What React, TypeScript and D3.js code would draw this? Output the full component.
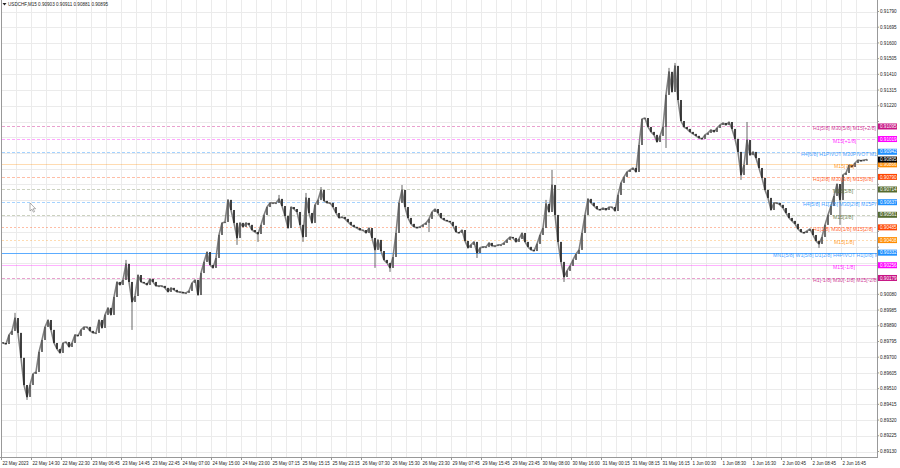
import * as d3 from 'd3';

const W = 900;
const H = 468;
const PLOT_LEFT = 2;
const PLOT_RIGHT = 877;
const PLOT_BOTTOM = 457;

const SYMBOL = 'USDCHF,M15';
const HEADER_OHLC = ['0.90903', '0.90911', '0.90881', '0.90895'];

// prices in points (1 point = 0.00001)
const FIRST_OPEN = 89790;
const CLOSES = [
  89786, 89780, 89835, 89859, 89937, 89847, 89696, 89532, 89460, 89532,
  89599, 89611, 89732, 89804, 89883, 89925, 89865, 89786, 89750, 89726,
  89786, 89792, 89762, 89786, 89835, 89829, 89865, 89883, 89883, 89859,
  89847, 89847, 89925, 89877, 89956, 89998, 89956, 90064, 90155, 90137,
  90167, 90264, 90155, 90034, 90070, 90197, 90155, 90149, 90137, 90173,
  90155, 90131, 90131, 90131, 90119, 90095, 90119, 90107, 90095, 90095,
  90089, 90089, 90101, 90149, 90167, 90076, 90209, 90276, 90336, 90258,
  90240, 90300, 90439, 90512, 90518, 90651, 90590, 90512, 90421, 90512,
  90488, 90512, 90500, 90469, 90457, 90445, 90500, 90560, 90608, 90633,
  90633, 90633, 90657, 90614, 90554, 90481, 90608, 90596, 90578, 90500,
  90427, 90663, 90572, 90512, 90621, 90651, 90711, 90645, 90633, 90633,
  90608, 90572, 90542, 90548, 90536, 90518, 90500, 90488, 90481, 90469,
  90469, 90451, 90481, 90421, 90349, 90409, 90342, 90288, 90270, 90240,
  90306, 90451, 90633, 90711, 90608, 90542, 90506, 90488, 90481, 90488,
  90500, 90512, 90536, 90578, 90596, 90572, 90542, 90530, 90524, 90518,
  90494, 90457, 90451, 90469, 90403, 90361, 90379, 90397, 90330, 90361,
  90367, 90367, 90391, 90373, 90373, 90379, 90379, 90391, 90409, 90427,
  90421, 90397, 90415, 90451, 90397, 90367, 90349, 90342, 90385, 90439,
  90481, 90627, 90578, 90741, 90560, 90397, 90276, 90185, 90222, 90252,
  90288, 90324, 90349, 90451, 90560, 90657, 90633, 90614, 90596, 90590,
  90602, 90590, 90608, 90608, 90584, 90681, 90754, 90790, 90820, 90832,
  90844, 90820, 90983, 91140, 91146, 91092, 91062, 91044, 91001, 91038,
  91092, 91286, 91425, 91304, 91461, 91255, 91128, 91092, 91080, 91062,
  91050, 91038, 91025, 91020, 91044, 91056, 91074, 91062, 91086, 91104,
  91116, 91104, 91122, 91080, 91020, 90941, 90802, 90862, 91013, 90922,
  90941, 90904, 90844, 90784, 90711, 90663, 90590, 90633, 90633, 90621,
  90602, 90572, 90542, 90524, 90506, 90475, 90457, 90451, 90463, 90475,
  90439, 90403, 90385, 90427, 90500, 90560, 90614, 90675, 90747, 90651,
  90802, 90814, 90862, 90850, 90874, 90892, 90887, 90892, 90895,
];

// [bar index, price] for long wicks
const WICK_HIGHS: [number, number][] = [
  [4, 89968], [41, 90288], [92, 90681], [101, 90693], [106, 90729], [133, 90741],
  [181, 90651], [183, 90832], [222, 91449], [224, 91479], [248, 91122],
];
const WICK_LOWS: [number, number][] = [
  [8, 89442], [43, 89865], [78, 90379], [85, 90397], [100, 90397], [124, 90240],
  [129, 90216], [142, 90457], [158, 90300], [187, 90155], [221, 90965], [246, 90772],
  [272, 90361], [279, 90500],
];

const PRICE_TICKS = [
  89130, 89225, 89320, 89415, 89510, 89605, 89700, 89795, 89890, 89985,
  90080, 90175, 90270, 90365, 90460, 90555, 90650, 90745, 90840, 90935,
  91030, 91125, 91220, 91315, 91410, 91505, 91600, 91695, 91790,
];

const TIME_LABELS = [
  '22 May 2023', '22 May 14:30', '22 May 22:30', '23 May 06:45', '23 May 14:45',
  '23 May 22:45', '24 May 07:00', '24 May 15:00', '24 May 23:00', '25 May 07:15',
  '25 May 15:15', '25 May 23:15', '26 May 07:30', '26 May 15:30', '26 May 23:30',
  '29 May 07:45', '29 May 15:45', '29 May 23:45', '30 May 08:00', '30 May 16:00',
  '31 May 00:15', '31 May 08:15', '31 May 16:15', '1 Jun 00:30', '1 Jun 08:30',
  '1 Jun 16:30', '2 Jun 00:45', '2 Jun 08:45', '2 Jun 16:45',
];
const LABEL_EVERY = 10;
const GRID_EVERY = 5;

const LEVEL_PRICES = [
  91095, 91019, 90942, 90866, 90790, 90714, 90637, 90561, 90485, 90408, 90332, 90256, 90179,
];
const LEVEL_NAMES = [
  'H1[5/8] M30[5/8] M15[+2/8]',
  'M15[+1/8]',
  'H4[6/8] H1PIVOT M30PIVOT M15[8/8]',
  'M15[7/8]',
  'H1[3/8] M30[3/8] M15[6/8]',
  'M15[5/8]',
  'H4[5/8] H1[2/8] M30[2/8] M15PIVOT',
  'M15[3/8]',
  'H1[1/8] M30[1/8] M15[2/8]',
  'M15[1/8]',
  'MN1[5/8] W1[5/8] D1[2/8] H4PIVOT H1[0/8] M30[0/8] M15[0/8]',
  'M15[-1/8]',
  'H1[-1/8] M30[-1/8] M15[-2/8]',
];
const LAST_PRICE = 90895;

// styling for the level lines
const LEVEL_COLORS = [
  '#C71585', '#FF00FF', '#1E90FF', '#FF8C00', '#FF4500', '#556B2F', '#1E90FF',
  '#556B2F', '#FF4500', '#FF8C00', '#1E90FF', '#FF00FF', '#C71585',
];
const LEVEL_LINE_COLORS = [
  '#C71585', '#FF00FF', '#1E90FF', '#FF8C00', '#FF4500', '#556B2F', '#1E90FF',
  '#556B2F', '#FF4500', '#FF8C00', '#4AA3FF', '#FF00FF', '#C71585',
];
const LEVEL_DASH = ['3,2', '3,2', '3,2', '', '3,2', '3,2', '3,2', '3,2', '2,2', '2,2', '', '', '3,2'];
const LEVEL_OPACITY = [0.4, 0.35, 0.4, 0.3, 0.35, 0.3, 0.4, 0.3, 0.35, 0.3, 0.9, 0.3, 0.4];
const LEVEL_TEXT_X = [813, 833, 801, 834, 813, 833, 803, 833, 813, 834, 773, 833, 813];

const FONT = '"Liberation Sans", Arial, sans-serif';
const fmt = (p: number) => (p / 100000).toFixed(5);

export default function App() {
  const x = d3.scaleLinear().domain([0, CLOSES.length - 1]).range([2, 866]);
  const y = d3.scaleLinear().domain([89130, 91790]).range([451.5, 11.5]);

  const highMap = new Map(WICK_HIGHS);
  const lowMap = new Map(WICK_LOWS);

  const candles = CLOSES.map((c, i) => {
    const o = i === 0 ? FIRST_OPEN : CLOSES[i - 1];
    const hi = Math.max(o, c, highMap.get(i) ?? -Infinity);
    const lo = Math.min(o, c, lowMap.get(i) ?? Infinity);
    return { i, o, c, hi, lo };
  });

  const closePath = d3
    .line<number>()
    .x((_, i) => x(i) + 1)
    .y((c) => y(c))(CLOSES);

  const gridX = d3.range(GRID_EVERY, CLOSES.length, GRID_EVERY).map((i) => Math.round(x(i)) - 0.5);

  const boxes = [
    ...LEVEL_PRICES.map((p, k) => ({ p, col: LEVEL_COLORS[k] })),
    { p: LAST_PRICE, col: '#000' },
  ];
  // plain tick labels hidden where a coloured price box sits on them
  const freeTicks = PRICE_TICKS.filter((p) => boxes.every((b) => Math.abs(y(b.p) - y(p)) > 5.5));

  return (
    <div style={{ width: W, height: H, position: 'relative' }}>
      <style>{'body{margin:0;background:#fff}'}</style>
      <svg width={W} height={H} viewBox={`0 0 ${W} ${H}`} style={{ display: 'block', background: '#fff' }}>
        <defs>
          <clipPath id="plot">
            <rect x={PLOT_LEFT} y={0} width={PLOT_RIGHT - PLOT_LEFT} height={PLOT_BOTTOM} />
          </clipPath>
        </defs>

        {/* grid */}
        <g stroke="#ebebeb" strokeWidth={1} shapeRendering="crispEdges">
          {gridX.map((gx) => (
            <line key={`gx${gx}`} x1={gx} x2={gx} y1={0} y2={PLOT_BOTTOM} />
          ))}
          {PRICE_TICKS.map((p) => (
            <line key={`gy${p}`} x1={PLOT_LEFT} x2={PLOT_RIGHT} y1={Math.round(y(p)) + 0.5} y2={Math.round(y(p)) + 0.5} />
          ))}
        </g>

        {/* murrey levels */}
        <g clipPath="url(#plot)">
          {LEVEL_PRICES.map((p, k) => (
            <line
              key={`lv${p}`}
              x1={PLOT_LEFT}
              x2={PLOT_RIGHT}
              y1={Math.round(y(p)) + 0.5}
              y2={Math.round(y(p)) + 0.5}
              stroke={LEVEL_LINE_COLORS[k]}
              strokeOpacity={LEVEL_OPACITY[k]}
              strokeDasharray={LEVEL_DASH[k] || undefined}
              strokeWidth={1}
            />
          ))}
        </g>

        {/* price bars */}
        <g clipPath="url(#plot)">
          <path d={closePath ?? ''} fill="none" stroke="#808080" strokeWidth={1.6} strokeLinejoin="round" />
          {candles.map((d) => {
            const cx = x(d.i);
            const top = y(Math.max(d.o, d.c));
            const h = Math.max(1.2, Math.abs(y(d.o) - y(d.c)));
            const bull = d.c >= d.o;
            return (
              <g key={d.i}>
                <line x1={cx + 1} x2={cx + 1} y1={y(d.hi)} y2={y(d.lo)} stroke="#555" strokeWidth={0.9} />
                <rect x={cx + 0.2} y={top} width={1.6} height={h} fill={bull ? '#5c5c5c' : '#262626'} />
              </g>
            );
          })}
        </g>

        {/* level texts */}
        <g clipPath="url(#plot)" fontFamily={FONT} fontSize={5.2}>
          {LEVEL_PRICES.map((p, k) => (
            <text key={`lt${p}`} x={LEVEL_TEXT_X[k]} y={y(p) + 4} fill={LEVEL_COLORS[k]} fillOpacity={0.85}>
              {LEVEL_NAMES[k]}
            </text>
          ))}
        </g>

        {/* frame */}
        <g stroke="#999" strokeWidth={1} shapeRendering="crispEdges">
          <line x1={PLOT_LEFT - 0.5} x2={PLOT_LEFT - 0.5} y1={0} y2={PLOT_BOTTOM} />
          <line x1={PLOT_RIGHT + 0.5} x2={PLOT_RIGHT + 0.5} y1={0} y2={PLOT_BOTTOM + 0.5} />
          <line x1={0} x2={PLOT_RIGHT + 0.5} y1={PLOT_BOTTOM + 0.5} y2={PLOT_BOTTOM + 0.5} />
        </g>

        {/* price axis */}
        <g fontFamily={FONT} fontSize={4.6} fill="#222">
          {PRICE_TICKS.map((p) => (
            <line key={`pk${p}`} x1={PLOT_RIGHT} x2={PLOT_RIGHT + 2} y1={y(p)} y2={y(p)} stroke="#999" />
          ))}
          {freeTicks.map((p) => (
            <text key={`pt${p}`} x={PLOT_RIGHT + 3} y={y(p) + 1.6}>{fmt(p)}</text>
          ))}
        </g>
        <g fontFamily={FONT} fontSize={4.6}>
          {boxes.map(({ p, col }) => (
            <g key={`pb${p}`}>
              <rect x={PLOT_RIGHT + 1} y={y(p) - 3} width={19} height={6} fill={col} />
              <text x={PLOT_RIGHT + 3} y={y(p) + 1.6} fill="#fff">{fmt(p)}</text>
            </g>
          ))}
        </g>

        {/* time axis */}
        <g fontFamily={FONT} fontSize={4.5} fill="#222">
          {TIME_LABELS.map((t, k) => {
            const tx = Math.round(x(k * LABEL_EVERY)) - 0.5;
            return (
              <g key={t}>
                <line x1={tx} x2={tx} y1={PLOT_BOTTOM} y2={PLOT_BOTTOM + 3} stroke="#999" />
                <text x={tx + 1} y={464.5}>{t}</text>
              </g>
            );
          })}
        </g>

        {/* header */}
        <path d="M2.5,3 L6.5,3 L4.5,5.5 Z" fill="#222" />
        <text x={8} y={6.2} fontFamily={FONT} fontSize={4.6} fill="#222">
          {`${SYMBOL}  ${HEADER_OHLC.join(' ')}`}
        </text>

        {/* mouse pointer */}
        <path
          d="M30,203 L30,211 L32,209.2 L33.4,212.2 L34.6,211.6 L33.2,208.7 L35.6,208.7 Z"
          fill="#fff"
          stroke="#666"
          strokeWidth={0.5}
        />
      </svg>
    </div>
  );
}
